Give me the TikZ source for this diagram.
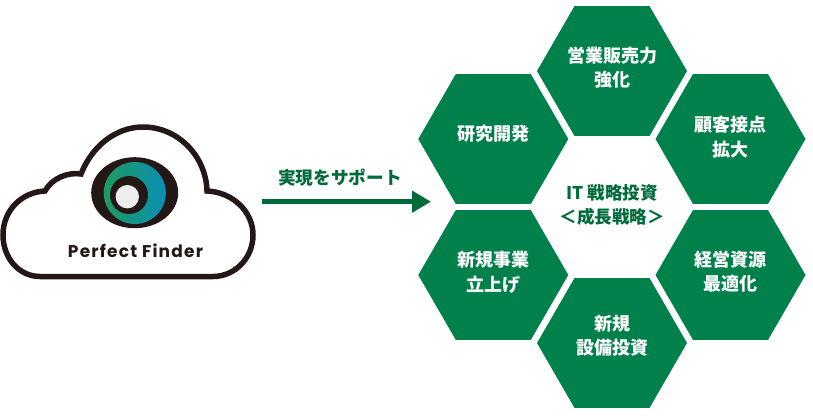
\documentclass[tikz,border=0pt]{standalone}
\usepackage{xcolor}
\usepackage{fontspec}
\usetikzlibrary{shapes.geometric,arrows.meta}
\newfontfamily\cjk{Noto Sans CJK JP}
\newfontfamily\logofont[LetterSpace=7]{Poppins}
\definecolor{hexgreen}{HTML}{00804A}
\definecolor{arrowgreen}{HTML}{006B3A}
\definecolor{eyeblack}{HTML}{231815}
\definecolor{irisleft}{HTML}{1F9A5E}
\definecolor{irisright}{HTML}{0A8FB5}

\begin{document}
\begin{tikzpicture}[x=1pt,y=-1pt]
	\tikzstyle{H}=[regular polygon,regular polygon sides=6,fill=hexgreen,draw=none,minimum size=150pt,inner sep=0pt,outer sep=0pt,text=white,align=center,font=\cjk\bfseries\fontsize{18}{24.5}\selectfont,text depth=8pt]
	\tikzstyle{T}=[text=arrowgreen,align=center,font=\cjk\bfseries\fontsize{17.5}{24}\selectfont]

	\useasboundingbox (0,0) rectangle (813,415);

	\draw [line width=5.5pt, eyeblack, fill=white] (40,276.5) .. controls (19,276.5) and (3,258) .. (3,235) .. controls (3,210) and (22,192) .. (45,191) .. controls (52,178) and (68,172) .. (81,174) .. controls (92,146) and (116,127) .. (143,127) .. controls (178,127) and (206,156) .. (207,191) .. controls (232,192) and (253,211) .. (253,235) .. controls (253,258) and (235,276.5) .. (213,276.5) -- cycle;

	\fill [eyeblack] (134.7,192.7) ellipse [x radius=43.5, y radius=35.5];
	\shade [left color=irisleft, right color=irisright] (134.8,193) circle [radius=31];
	\fill [eyeblack] (129,195) circle [radius=19];
	\fill [black!7] (127.3,196.7) circle [radius=11.7];
	\node (logo) [text=eyeblack, font=\logofont\bfseries\fontsize{17}{18}\selectfont] at (135.5,251) {Perfect Finder};

	\coordinate (from) at (262,201.7);
	\coordinate (to) at (431,201.7);
	\draw [line width=5pt, arrowgreen, -{Triangle[length=19pt,width=21pt]}] (from) -- (to);
	\node (support) [T, font=\cjk\bfseries\fontsize{17.7}{18}\selectfont] at (340,178) {実現をサポート};

	\node (sales) [H] at (612,71) {営業販売力\\強化};
	\node (research) [H, text depth=12pt] at (493.3,139) {研究開発};
	\node (customer) [H, text depth=5pt] at (730.5,139) {顧客接点\\拡大};
	\node (business) [H, text depth=7pt] at (493.3,275) {新規事業\\立上げ};
	\node (resource) [H] at (730.5,275) {経営資源\\最適化};
	\node (equipment) [H, text depth=16pt] at (612,343) {新規\\設備投資};
	\node (center) [T] at (612,205) {IT 戦略投資\\＜成長戦略＞};
\end{tikzpicture}
\end{document}
